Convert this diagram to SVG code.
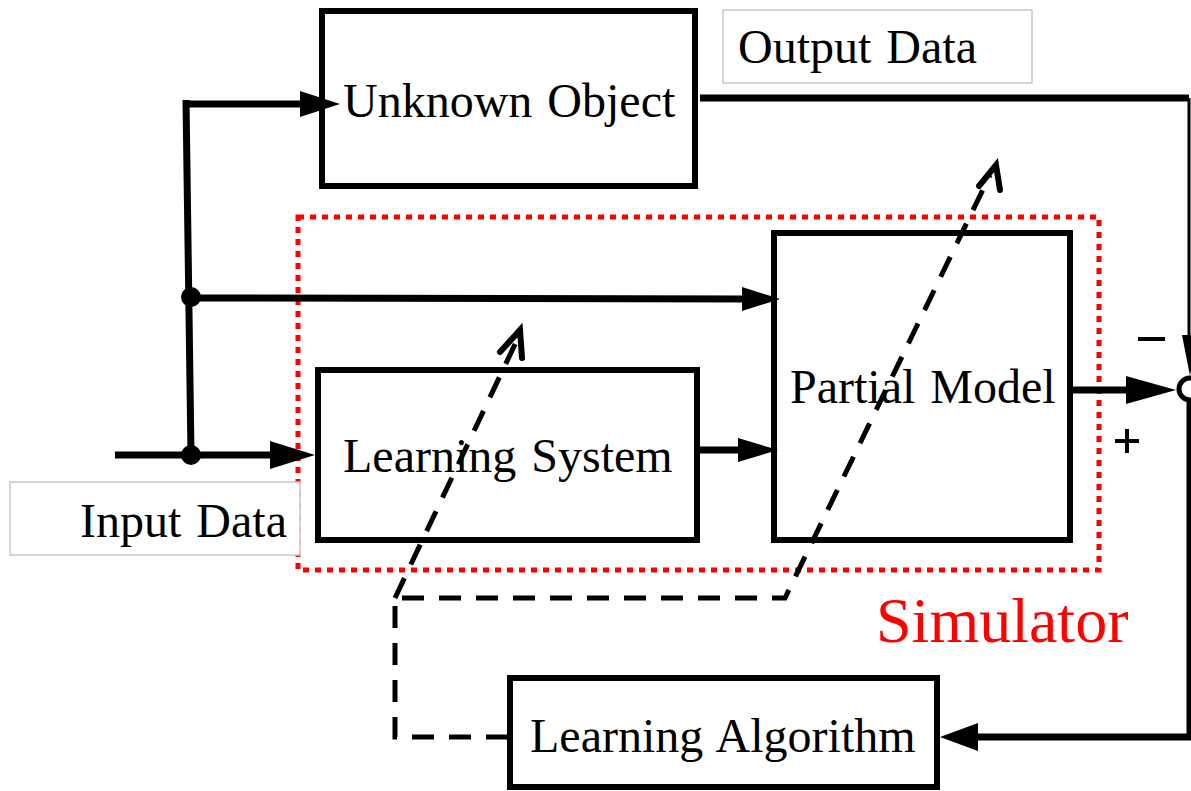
<svg xmlns="http://www.w3.org/2000/svg" width="1191" height="791" viewBox="0 0 1191 791">
<style>
.box{fill:#fff;stroke:#000;stroke-width:6}
.lbl{fill:#fff;stroke:#c8c8c8;stroke-width:1.5}
.t{font-family:"Liberation Serif","Times New Roman",serif;font-size:48px;fill:#000;word-spacing:3px}
.w{fill:none;stroke:#000;stroke-width:7}
.d{fill:none;stroke:#000;stroke-width:5;stroke-dasharray:22 15}
</style>
<rect width="1191" height="791" fill="#fff"/>
<g id="simulator-frame">
<rect x="298" y="217" width="801" height="353" fill="none" stroke="#f00" stroke-width="5" stroke-dasharray="6 6"/>
<text x="876" y="642" font-family="Liberation Serif,serif" font-size="64" fill="#f00">Simulator</text>
</g>
<g id="input-label">
<rect class="lbl" x="10" y="482" width="290" height="73"/>
<text class="t" x="80" y="537">Input Data</text>
</g>
<g id="output-label">
<rect class="lbl" x="723" y="10" width="309" height="73"/>
<text class="t" x="738" y="63">Output Data</text>
</g>
<g id="unknown-object">
<rect class="box" x="322" y="11" width="373" height="175"/>
<text class="t" x="343" y="117">Unknown Object</text>
</g>
<g id="learning-system">
<rect class="box" x="318" y="370" width="379" height="170"/>
<text class="t" x="343" y="472">Learning System</text>
</g>
<g id="partial-model">
<rect class="box" x="774" y="233" width="296" height="307"/>
<text class="t" x="790" y="403">Partial Model</text>
</g>
<g id="learning-algorithm">
<rect class="box" x="510" y="678" width="427" height="109"/>
<text class="t" x="530" y="752">Learning Algorithm</text>
</g>
<g id="connectors">
<line class="w" x1="115" y1="455" x2="280" y2="455"/>
<path d="M270,441 L315,455 L270,469 z"/>
<line class="w" x1="191" y1="455" x2="186" y2="100"/>
<line class="w" x1="183" y1="104" x2="300" y2="104"/>
<path d="M300,91 L340,104 L300,117 z"/>
<circle cx="191" cy="297" r="10"/>
<circle cx="191" cy="455" r="10"/>
<line class="w" x1="191" y1="298" x2="750" y2="299"/>
<path d="M742,287 L780,299 L742,311 z"/>
<line class="w" x1="700" y1="450" x2="745" y2="450"/>
<path d="M738,438 L778,450 L738,462 z"/>
<line class="w" x1="1070" y1="390" x2="1140" y2="390"/>
<path d="M1126,376 L1176,390 L1126,404 z"/>
<line class="w" x1="700" y1="98" x2="1189" y2="98"/>
<line x1="1189" y1="98" x2="1189" y2="340" stroke="#000" stroke-width="3"/>
<path d="M1182,335 L1190,376 L1197,335 z"/>
<circle cx="1190" cy="389" r="11" fill="#fff" stroke="#000" stroke-width="5"/>
<polyline class="w" points="1190,401 1190,737 970,737"/>
<path d="M978,723 L940,737 L978,751 z"/>
<polyline class="d" points="508,737 395,737 395,598 785,598 990,175"/>
<polyline fill="none" stroke="#000" stroke-width="6" stroke-linecap="round" points="979,186 996,165 1000,190"/>
<polyline class="d" points="395,598 517,340"/>
<polyline fill="none" stroke="#000" stroke-width="6" stroke-linecap="round" points="500,352 520,330 522,358"/>
<line x1="1138" y1="339" x2="1165" y2="339" stroke="#000" stroke-width="4"/>
<line x1="1115" y1="441" x2="1139" y2="441" stroke="#000" stroke-width="4"/>
<line x1="1127" y1="429" x2="1127" y2="453" stroke="#000" stroke-width="4"/>
</g>
</svg>
